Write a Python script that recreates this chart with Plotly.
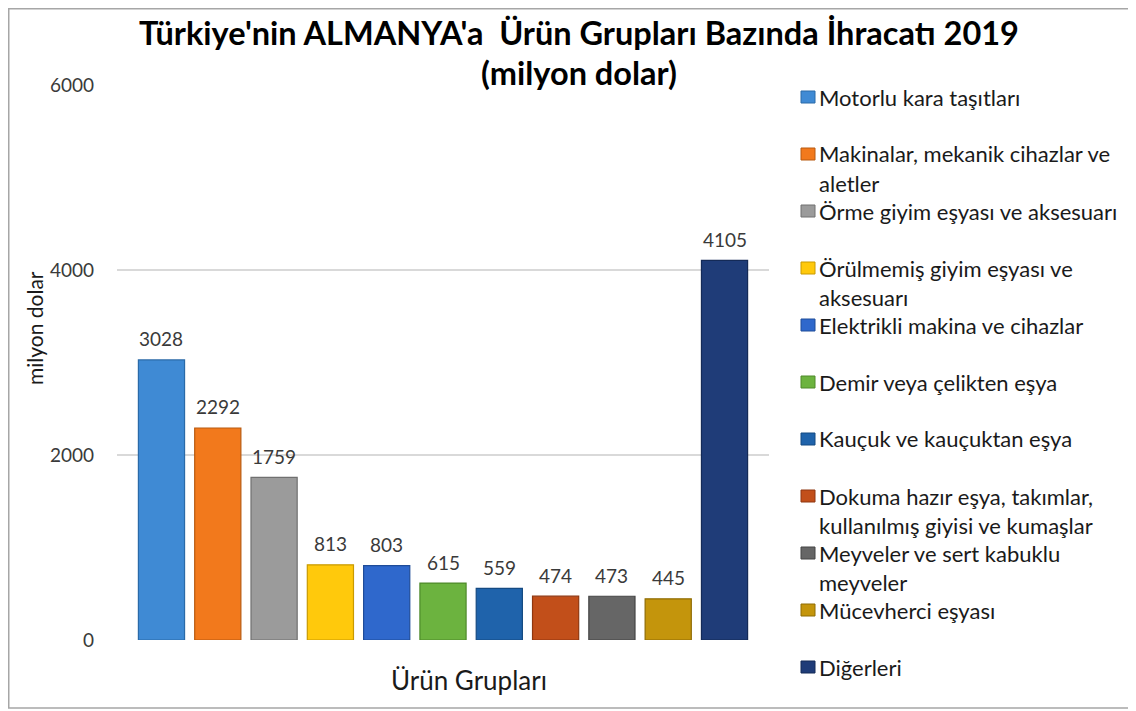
import plotly.graph_objects as go

# ---- data ----
categories = [
    "Motorlu kara taşıtları",
    "Makinalar, mekanik cihazlar ve<br>aletler",
    "Örme giyim eşyası ve aksesuarı",
    "Örülmemiş giyim eşyası ve<br>aksesuarı",
    "Elektrikli makina ve cihazlar",
    "Demir veya çelikten eşya",
    "Kauçuk ve kauçuktan eşya",
    "Dokuma hazır eşya, takımlar,<br>kullanılmış giyisi ve kumaşlar",
    "Meyveler ve sert kabuklu<br>meyveler",
    "Mücevherci eşyası",
    "Diğerleri",
]
values = [3028, 2292, 1759, 813, 803, 615, 559, 474, 473, 445, 4105]
colors = ["#3f8ad4", "#f2791c", "#9b9b9b", "#ffc90c", "#2f68cc", "#6cb33f",
          "#1f63ab", "#c24f1a", "#666666", "#c4950c", "#1f3c78"]
edges = ["#2a6aa8", "#b85a10", "#707070", "#c99a00", "#1f4c99", "#4e8a2a",
         "#154a82", "#8f3710", "#454545", "#8f6c05", "#142a57"]
y_ticks = [0, 2000, 4000, 6000]

# page body has an 8px margin -> figure drawn at (8, 8)
OFF = 8
W, H = 1128, 703
L, R, T, B = 109, 367, 77, 71
PW, PH = W - L - R, H - T - B


def px(sx):
    return (sx - OFF - L) / PW


def py(sy):
    return (H - B - (sy - OFF)) / PH


FONT = "Lato"
fig = go.Figure()
for name, v, c, e in zip(categories, values, colors, edges):
    fig.add_trace(go.Bar(
        x=[name], y=[v], name=name.replace("<br>", " "),
        marker=dict(color=c, line=dict(color=e, width=1.2)),
        showlegend=False, hoverinfo="y",
    ))
    fig.add_annotation(x=name, y=v, text=str(v), showarrow=False,
                       yanchor="middle", yshift=21,
                       font=dict(family=FONT, size=19, color="#3a3a3a"))

fig.update_layout(
    width=W, height=H,
    margin=dict(l=L, r=R, t=T, b=B),
    paper_bgcolor="white", plot_bgcolor="white",
    barmode="relative", bargap=0.18,
    xaxis=dict(showticklabels=False, showgrid=False, zeroline=False,
               range=[-0.79, 10.79], fixedrange=True),
    yaxis=dict(range=[0, 6000], tickvals=y_ticks, showgrid=True,
               gridcolor="#d9d9d9", gridwidth=1.5, zeroline=False,
               ticklabelstandoff=22,
               tickfont=dict(family=FONT, size=19, color="#3a3a3a")),
    showlegend=False,
)

# title
fig.add_annotation(xref="paper", yref="paper", x=px(579), y=py(32),
                   text="<b>Türkiye'nin ALMANYA'a  Ürün Grupları Bazında İhracatı 2019</b>",
                   showarrow=False, xanchor="center", yanchor="middle",
                   font=dict(family=FONT, size=32.5, color="#000000"))
fig.add_annotation(xref="paper", yref="paper", x=px(579), y=py(72),
                   text="<b>(milyon dolar)</b>",
                   showarrow=False, xanchor="center", yanchor="middle",
                   font=dict(family=FONT, size=32.5, color="#000000"))

# axis titles
fig.add_annotation(xref="paper", yref="paper", x=px(34), y=py(328),
                   text="milyon dolar", textangle=-90, showarrow=False,
                   xanchor="center", yanchor="middle",
                   font=dict(family=FONT, size=21, color="#1a1a1a"))
fig.add_annotation(xref="paper", yref="paper", x=px(469), y=py(680),
                   text="Ürün Grupları", showarrow=False,
                   xanchor="center", yanchor="middle",
                   font=dict(family=FONT, size=26, color="#1a1a1a"))

# legend (manual, evenly spaced)
leg_y0, leg_dy, line_dy = 97, 57, 29
for i, (name, c) in enumerate(zip(categories, colors)):
    yy = leg_y0 + i * leg_dy
    fig.add_shape(type="rect", xref="paper", yref="paper",
                  x0=px(801), x1=px(815), y0=py(yy - 6), y1=py(yy + 6),
                  fillcolor=c, line=dict(color=edges[i], width=1))
    for j, line in enumerate(name.split("<br>")):
        fig.add_annotation(xref="paper", yref="paper", x=px(817),
                           y=py(yy + j * line_dy), text=line, showarrow=False,
                           xanchor="left", yanchor="middle",
                           font=dict(family=FONT, size=22, color="#1a1a1a"))

# chart border
fig.add_shape(type="rect", xref="paper", yref="paper",
              x0=px(8.75), x1=px(1150), y0=py(708), y1=py(8.75),
              line=dict(color="#a6a6a6", width=1.5), fillcolor="rgba(0,0,0,0)",
              layer="below")

fig.write_html("out.html")
